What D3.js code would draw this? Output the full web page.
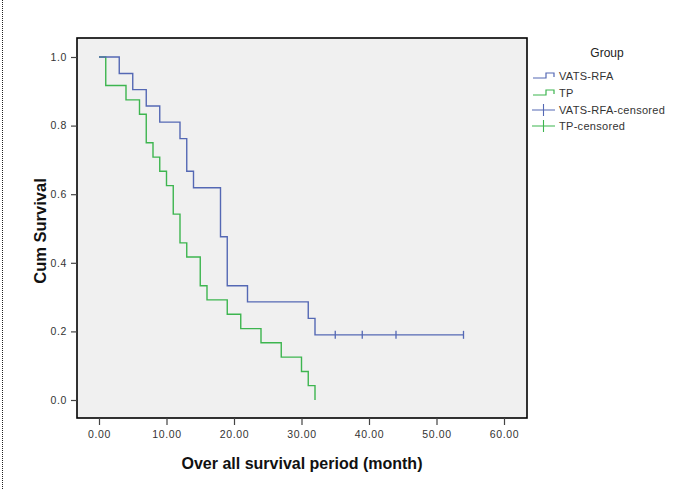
<!DOCTYPE html>
<html><head><meta charset="utf-8">
<script src="https://cdn.jsdelivr.net/npm/d3@7"></script>
<style>body{margin:0;background:#fff}svg{display:block}text{font-family:"Liberation Sans",Arial,sans-serif}</style>
</head><body><svg id="c" width="700" height="490"></svg>
<script>
// Kaplan-Meier data
const vatsTimes = [0, 3, 5, 7, 9, 12, 13, 14, 18, 19, 22, 31, 32];
const vatsSurv  = [1.0, 0.952, 0.905, 0.857, 0.810, 0.762, 0.667, 0.619, 0.476, 0.333, 0.286, 0.238, 0.190];
const vatsEnd = 54;
const vatsCensored = [35, 39, 44, 54];
const tpTimes = [0, 1, 4, 6, 7, 8, 9, 10, 11, 12, 13, 15, 16, 19, 21, 24, 27, 30, 31, 32];
const tpSurv  = [1.0, 0.917, 0.875, 0.833, 0.750, 0.708, 0.667, 0.625, 0.542, 0.458, 0.417, 0.333, 0.292, 0.250, 0.208, 0.167, 0.125, 0.083, 0.042, 0.0];
const tpEnd = 32;
const xTicks = [0, 10, 20, 30, 40, 50, 60];
const yTicks = [0, 0.2, 0.4, 0.6, 0.8, 1.0];
const legendLabels = ["VATS-RFA", "TP", "VATS-RFA-censored", "TP-censored"];

const blue = "#5468b4", green = "#3db54f";
const svg = d3.select("#c");
const L = 77, T = 38, R = 527, B = 418;
const x = d3.scaleLinear().domain([0, 60]).range([99, 504]);
const y = d3.scaleLinear().domain([0, 1]).range([400, 57]);

// dotted border at left
svg.append("line").attr("x1", 2.5).attr("x2", 2.5).attr("y1", 0).attr("y2", 490)
  .attr("stroke", "#222").attr("stroke-width", 1).attr("stroke-dasharray", "1,1");

svg.append("rect").attr("x", L).attr("y", T).attr("width", R - L).attr("height", B - T)
  .attr("fill", "#f0f0f0");

function stepPath(times, surv, end) {
  const pts = [];
  for (let i = 0; i < times.length; i++) {
    if (i > 0) pts.push([times[i], surv[i - 1]]);
    pts.push([times[i], surv[i]]);
  }
  pts.push([end, surv[surv.length - 1]]);
  return d3.line().x(d => x(d[0])).y(d => y(d[1]))(pts);
}
const g = svg.append("g");
g.append("path").attr("d", stepPath(tpTimes, tpSurv, tpEnd)).attr("fill", "none")
  .attr("stroke", green).attr("stroke-width", 1.4);
g.append("path").attr("d", stepPath(vatsTimes, vatsSurv, vatsEnd)).attr("fill", "none")
  .attr("stroke", blue).attr("stroke-width", 1.4);
const lastV = vatsSurv[vatsSurv.length - 1];
g.selectAll(".cv").data(vatsCensored).enter().append("line")
  .attr("x1", d => x(d)).attr("x2", d => x(d))
  .attr("y1", y(lastV) - 4).attr("y2", y(lastV) + 4)
  .attr("stroke", blue).attr("stroke-width", 1.3);

// frame
svg.append("rect").attr("x", L).attr("y", T).attr("width", R - L).attr("height", B - T)
  .attr("fill", "none").attr("stroke", "#000").attr("stroke-width", 1.6);

// axes
const xa = svg.append("g").attr("transform", `translate(0,${B})`)
  .call(d3.axisBottom(x).tickValues(xTicks).tickFormat(d3.format(".2f")).tickSize(7).tickSizeOuter(0));
const ya = svg.append("g").attr("transform", `translate(${L},0)`)
  .call(d3.axisLeft(y).tickValues(yTicks).tickFormat(d3.format(".1f")).tickSize(6).tickSizeOuter(0));
[xa, ya].forEach(a => {
  a.select(".domain").remove();
  a.selectAll(".tick line").attr("stroke", "#444").attr("stroke-width", 1.2);
  a.selectAll(".tick text").attr("fill", "#333").style("font-size", "10.5px").style("letter-spacing", "0.6px");
});
xa.selectAll(".tick text").attr("dy", "0.95em");
ya.selectAll(".tick text").attr("dx", "-1px");

svg.append("text").attr("x", 302).attr("y", 469).attr("text-anchor", "middle")
  .style("font-size", "16px").style("font-weight", "bold").attr("fill", "#111")
  .text("Over all survival period (month)");
svg.append("text").attr("transform", "translate(46,231) rotate(-90)").attr("text-anchor", "middle")
  .style("font-size", "16.5px").style("font-weight", "bold").attr("fill", "#111")
  .text("Cum Survival");

// legend
svg.append("text").attr("x", 607).attr("y", 57).attr("text-anchor", "middle")
  .style("font-size", "12px").attr("fill", "#222").text("Group");
const legY = [76, 93, 110, 126];
const legCol = [blue, green, blue, green];
legendLabels.forEach((lab, i) => {
  const yy = legY[i];
  if (i < 2) {
    svg.append("path").attr("d", `M533,${yy + 2}H546V${yy - 3}H554V${yy + 1}`).attr("fill", "none")
      .attr("stroke", legCol[i]).attr("stroke-width", 1.2);
  } else {
    svg.append("path").attr("d", `M532,${yy}H555M543.5,${yy - 6}V${yy + 6}`).attr("fill", "none")
      .attr("stroke", legCol[i]).attr("stroke-width", 1.1);
  }
  svg.append("text").attr("x", 559).attr("y", yy + 4).style("font-size", "11px")
    .style("letter-spacing", "0.3px").attr("fill", "#333").text(lab);
});
</script></body></html>
